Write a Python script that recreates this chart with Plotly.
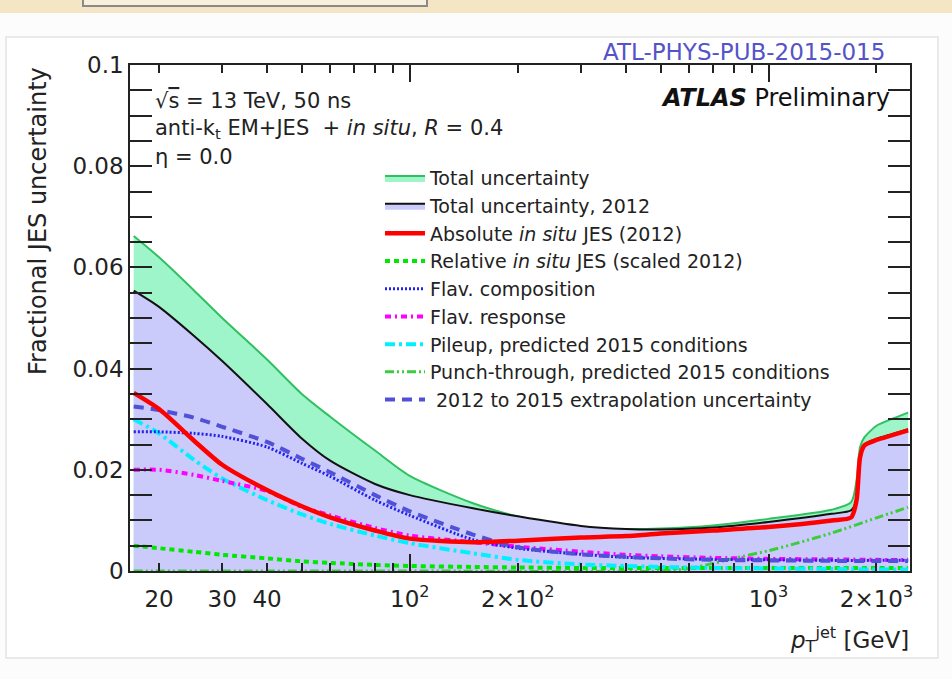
import numpy as np
import plotly.graph_objects as go

# ---------------- data ----------------
pt_tot = [17, 20, 25, 30, 40, 50, 60, 80, 100, 150, 200, 300, 400, 500, 700,
          1000, 1500, 1700, 1760, 1800, 1850, 2000, 2200, 2450]
total_unc = [0.0662, 0.0620, 0.0555, 0.0500, 0.0418, 0.0350, 0.0305, 0.0238, 0.0188,
             0.0134, 0.0108, 0.0086, 0.0083, 0.0084, 0.0090, 0.0103, 0.0121, 0.0136,
             0.0180, 0.0245, 0.0264, 0.0287, 0.0300, 0.0313]
total_2012 = [0.0554, 0.0522, 0.0465, 0.0415, 0.0330, 0.0262, 0.0218, 0.0172, 0.0150,
              0.0124, 0.0108, 0.0089, 0.0083, 0.0082, 0.0086, 0.0097, 0.0113, 0.0120,
              0.0142, 0.0227, 0.0250, 0.0261, 0.0270, 0.0280]
absolute_insitu = [0.0352, 0.0320, 0.0258, 0.0210, 0.0160, 0.0128, 0.0106, 0.0080, 0.0064,
                   0.0057, 0.0060, 0.0066, 0.0069, 0.0074, 0.0080, 0.0087, 0.0100, 0.0106,
                   0.0140, 0.0225, 0.0248, 0.0259, 0.0268, 0.0278]

pt_comp = [17, 20, 25, 30, 40, 50, 60, 80, 100, 150, 200, 300, 400, 500, 700,
           1000, 1500, 2000, 2450]
relative_insitu = [0.0050, 0.0045, 0.0038, 0.0032, 0.0025, 0.0019, 0.0016, 0.0012, 0.0010,
                   0.0008, 0.0007, 0.0006, 0.0006, 0.0006, 0.0006, 0.0006, 0.0006, 0.0006, 0.0006]
flav_comp = [0.0275, 0.0275, 0.0272, 0.0266, 0.0245, 0.0213, 0.0187, 0.0140, 0.0110,
             0.0062, 0.0045, 0.0033, 0.0027, 0.0025, 0.0023, 0.0022, 0.0021, 0.0021, 0.0021]
flav_resp = [0.0200, 0.0200, 0.0190, 0.0178, 0.0158, 0.0127, 0.0110, 0.0085, 0.0070,
             0.0057, 0.0048, 0.0038, 0.0032, 0.0029, 0.0026, 0.0024, 0.0023, 0.0022, 0.0022]
pileup = [0.0300, 0.0272, 0.0220, 0.0183, 0.0140, 0.0112, 0.0093, 0.0070, 0.0055,
          0.0035, 0.0022, 0.0013, 0.0010, 0.0008, 0.0006, 0.0005, 0.0004, 0.0003, 0.0003]
extrapolation = [0.0325, 0.0318, 0.0303, 0.0285, 0.0255, 0.0222, 0.0195, 0.0150, 0.0118,
                 0.0072, 0.0047, 0.0033, 0.0028, 0.0025, 0.0022, 0.0021, 0.0020, 0.0020, 0.0020]

pt_punch = [17, 100, 500, 600, 700, 800, 1000, 1200, 1500, 2000, 2450]
punch_through = [0.0, 0.0, 0.0, 0.0005, 0.0015, 0.0025, 0.0040, 0.0055, 0.0075, 0.0105, 0.0126]

x_tick_vals = [20, 30, 40, 100, 200, 1000, 2000]
x_tick_text = ["20", "30", "40", "10<sup>2</sup>", "2×10<sup>2</sup>", "10<sup>3</sup>", "2×10<sup>3</sup>"]
x_minor_vals = [20, 30, 40, 50, 60, 70, 80, 90, 200, 300, 400, 500, 600, 700, 800, 900, 2000]
x_major_vals = [100, 1000]
x_range = [16.6, 2480]

FONT = "DejaVu Sans"
SM = 0.7

# ---------------- figure ----------------
fig = go.Figure()

fig.add_trace(go.Scatter(x=pt_tot, y=total_unc, mode="lines", fill="tozeroy",
                         fillcolor="#9ef5c9",
                         line=dict(color="#30c060", width=2, shape="spline", smoothing=SM),
                         name="Total uncertainty", legendrank=1))
fig.add_trace(go.Scatter(x=pt_tot, y=total_2012, mode="lines", fill="tozeroy",
                         fillcolor="#cbcbfb",
                         line=dict(color="#111111", width=2, shape="spline", smoothing=SM),
                         name="Total uncertainty, 2012", legendrank=2))
fig.add_trace(go.Scatter(x=pt_punch, y=punch_through, mode="lines",
                         line=dict(color="#3ccc3c", width=3, dash="9px,3px,2px,3px,2px,3px",
                                   shape="spline", smoothing=SM),
                         name="Punch-through, predicted 2015 conditions", legendrank=8))
fig.add_trace(go.Scatter(x=pt_comp, y=relative_insitu, mode="lines",
                         line=dict(color="#00e800", width=4, dash="5px,4px",
                                   shape="spline", smoothing=SM),
                         name="Relative <i>in situ</i> JES (scaled 2012)", legendrank=4))
fig.add_trace(go.Scatter(x=pt_comp, y=pileup, mode="lines",
                         line=dict(color="#00f0ff", width=4, dash="10px,4px,3px,4px",
                                   shape="spline", smoothing=SM),
                         name="Pileup, predicted 2015 conditions", legendrank=7))
fig.add_trace(go.Scatter(x=pt_comp, y=flav_resp, mode="lines",
                         line=dict(color="#ff00ff", width=4, dash="6px,4px,2px,4px",
                                   shape="spline", smoothing=SM),
                         name="Flav. response", legendrank=6))
fig.add_trace(go.Scatter(x=pt_comp, y=flav_comp, mode="lines",
                         line=dict(color="#2020f0", width=3, dash="2px,2px",
                                   shape="spline", smoothing=SM),
                         name="Flav. composition", legendrank=5))
fig.add_trace(go.Scatter(x=pt_comp, y=extrapolation, mode="lines",
                         line=dict(color="#5050d8", width=4, dash="10px,7px",
                                   shape="spline", smoothing=SM),
                         name=" 2012 to 2015 extrapolation uncertainty", legendrank=9))
fig.add_trace(go.Scatter(x=pt_tot, y=absolute_insitu, mode="lines",
                         line=dict(color="#ff0000", width=4.5, shape="spline", smoothing=SM),
                         name="Absolute <i>in situ</i> JES (2012)", legendrank=3))
# label-only overlay axis
fig.add_trace(go.Scatter(x=[], y=[], xaxis="x2", showlegend=False, hoverinfo="skip"))

lx = np.log10(x_range).tolist()

fig.update_layout(
    width=952, height=679,
    margin=dict(l=130, r=42, t=65, b=108),
    paper_bgcolor="#fcfcfc",
    plot_bgcolor="white",
    font=dict(family=FONT, color="#222222"),
    xaxis=dict(type="log", range=lx, tickmode="array", tickvals=x_major_vals,
               showticklabels=False, ticks="inside", ticklen=17, tickwidth=1.5,
               tickcolor="#222", showline=True, linecolor="#222", linewidth=1.5,
               mirror="allticks", showgrid=False, zeroline=False,
               minor=dict(tickvals=x_minor_vals, ticks="inside", ticklen=8,
                          tickwidth=1.5, tickcolor="#222", showgrid=False)),
    xaxis2=dict(type="log", range=lx, overlaying="x", anchor="y", side="bottom",
                tickmode="array", tickvals=x_tick_vals, ticktext=x_tick_text,
                ticks="", showline=False, showgrid=False, zeroline=False,
                tickfont=dict(size=23, family=FONT, color="#222"),
                ticklabelstandoff=12),
    yaxis=dict(range=[0, 0.1], tickmode="array", tickvals=[0, 0.02, 0.04, 0.06, 0.08, 0.1],
               ticktext=["0", "0.02", "0.04", "0.06", "0.08", "0.1"],
               ticks="inside", ticklen=22, tickwidth=1.5, tickcolor="#222",
               showline=True, linecolor="#222", linewidth=1.5, mirror="allticks",
               showgrid=False, zeroline=False,
               tickfont=dict(size=23, family=FONT, color="#222"),
               minor=dict(dtick=0.005, ticks="inside", ticklen=11, tickwidth=1.5,
                          tickcolor="#222", showgrid=False)),
    legend=dict(x=0.3205, y=0.814, xanchor="left", yanchor="top",
                bgcolor="rgba(0,0,0,0)", font=dict(size=19, family=FONT, color="#222"),
                itemwidth=40, traceorder="normal"),
    showlegend=True,
)

def xp(px):
    return (px - 130) / 780.0

def yp(py):
    return (571 - py) / 506.0

shapes = [
    # slide background band
    dict(type="rect", xref="paper", yref="paper", x0=xp(0), x1=xp(952), y0=yp(13), y1=yp(-2),
         fillcolor="#f4e6c4", line=dict(width=0), layer="below"),
    # text box bottom on the slide
    dict(type="rect", xref="paper", yref="paper", x0=xp(83), x1=xp(427), y0=yp(6), y1=yp(-10),
         fillcolor="#f8f0dc", line=dict(color="#8a8a8a", width=2), layer="below"),
    # image frame
    dict(type="rect", xref="paper", yref="paper", x0=xp(6), x1=xp(938), y0=yp(658), y1=yp(37),
         fillcolor="white", line=dict(color="#e4e4e4", width=1.5), layer="below"),
]
fig.update_layout(shapes=shapes)

ann = [
    dict(text="ATL-PHYS-PUB-2015-015", x=xp(887), y=yp(52), xanchor="right", yanchor="middle",
         font=dict(size=23, color="#5454c8", family=FONT)),
    dict(text="√<span style='text-decoration:overline'>s</span> = 13 TeV, 50 ns",
         x=xp(153), y=yp(101), xanchor="left", yanchor="middle",
         font=dict(size=21, color="#222", family=FONT)),
    dict(text="anti-k<sub>t</sub> EM+JES  + <i>in situ</i>, <i>R</i> = 0.4",
         x=xp(153), y=yp(129), xanchor="left", yanchor="middle",
         font=dict(size=21, color="#222", family=FONT)),
    dict(text="η = 0.0", x=xp(153), y=yp(157), xanchor="left", yanchor="middle",
         font=dict(size=21, color="#222", family=FONT)),
    dict(text="<b><i>ATLAS</i></b> Preliminary", x=xp(892), y=yp(98), xanchor="right",
         yanchor="middle", font=dict(size=24, color="#111", family=FONT)),
    dict(text="Fractional JES uncertainty", x=xp(38), y=yp(65), xanchor="center",
         yanchor="top", textangle=-90, font=dict(size=24, color="#222", family=FONT)),
    dict(text="<i>p</i><sub>T</sub><sup>jet</sup> [GeV]", x=xp(911), y=yp(640),
         xanchor="right", yanchor="middle", font=dict(size=23, color="#222", family=FONT)),
]
for a in ann:
    a.update(xref="paper", yref="paper", showarrow=False)
fig.update_layout(annotations=ann)

fig.write_html("out.html")
